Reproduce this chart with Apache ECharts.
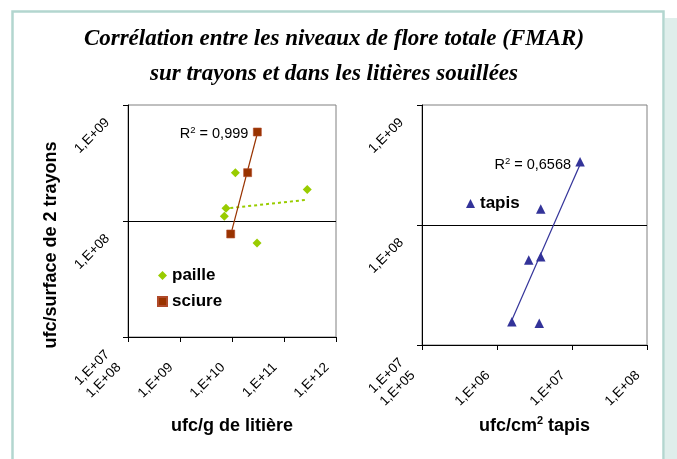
<!DOCTYPE html>
<html><head><meta charset="utf-8">
<script src="https://cdn.jsdelivr.net/npm/echarts@6/dist/echarts.min.js"></script>
<style>html,body{margin:0;padding:0;background:#fff}#c{width:677px;height:459px}</style>
</head><body><div id="c"></div>
<script>
// ---- data ----
const titleText = 'Corrélation entre les niveaux de flore totale (FMAR)\nsur trayons et dans les litières souillées';
const yAxisTitle = 'ufc/surface de 2 trayons';
const xAxisTitleLeft = 'ufc/g de litière';
const xAxisTitleRight = 'ufc/cm{s|2} tapis';

const pailleX = [1.16e10, 2.8e11, 7.67e9, 7.11e9, 3.03e10];
const pailleY = [2.61e8, 1.87e8, 1.29e8, 1.10e8, 6.46e7];
const sciureX = [3.07e10, 2.0e10, 9.44e9];
const sciureY = [5.85e8, 2.61e8, 7.73e7];
const tapisX = [1.28e7, 3.83e6, 2.65e6, 3.83e6, 1.58e6, 3.66e6];
const tapisY = [3.37e8, 1.36e8, 5.11e7, 5.45e7, 1.56e7, 1.52e7];

const r2Sciure = '0,999';
const r2Tapis = '0,6568';

const leftXRange = [1e8, 1e12];
const leftYRange = [1e7, 1e9];
const rightXRange = [1e5, 1e8];
const rightYRange = [1e7, 1e9];

// ---- helpers ----
function zip(xs, ys) { return xs.map((x, i) => [x, ys[i]]); }
// power trendline (least squares in log-log space), drawn from min x to max x
function powerTrend(xs, ys) {
  const lx = xs.map(Math.log10), ly = ys.map(Math.log10);
  const n = lx.length;
  const mx = lx.reduce((a, b) => a + b, 0) / n, my = ly.reduce((a, b) => a + b, 0) / n;
  let sxy = 0, sxx = 0;
  for (let i = 0; i < n; i++) { sxy += (lx[i] - mx) * (ly[i] - my); sxx += (lx[i] - mx) ** 2; }
  const b = sxy / sxx, a = my - b * mx;
  const x0 = Math.min(...lx), x1 = Math.max(...lx);
  return [[10 ** x0, 10 ** (a + b * x0)], [10 ** x1, 10 ** (a + b * x1)]];
}
const fmt = v => '1,E+' + String(Math.round(Math.log10(v))).padStart(2, '0');
const FONT = 'Liberation Sans, Arial, sans-serif';

function xAxis(grid, range, name, gap) {
  return {
    type: 'log', logBase: 10, gridIndex: grid, min: range[0], max: range[1],
    name: name, nameLocation: 'middle', nameGap: gap,
    nameTextStyle: { fontFamily: FONT, fontSize: 18, fontWeight: 'bold', color: '#000',
      rich: { s: { fontFamily: FONT, fontSize: 11, fontWeight: 'bold', verticalAlign: 'bottom', padding: [0, 0, 9, 0], color: '#000' } } },
    axisLine: { show: true, lineStyle: { color: '#000', width: 1 } },
    axisTick: { show: true, length: 5, lineStyle: { color: '#000' } },
    minorTick: { show: false },
    splitLine: { show: false },
    axisLabel: { rotate: 45, fontFamily: FONT, fontSize: 13.5, color: '#000', margin: 19,
      padding: [0, 13, 0, 0], formatter: fmt, showMinLabel: true, showMaxLabel: true }
  };
}
function yAxis(grid, range, name) {
  return {
    type: 'log', logBase: 10, gridIndex: grid, min: range[0], max: range[1],
    name: name, nameLocation: 'middle', nameGap: 68,
    nameTextStyle: { fontFamily: FONT, fontSize: 18, fontWeight: 'bold', color: '#000', padding: [0, 48, 0, 0] },
    axisLine: { show: true, lineStyle: { color: '#000', width: 1 } },
    axisTick: { show: true, length: 5, lineStyle: { color: '#000' } },
    minorTick: { show: false },
    splitLine: { show: true, showMinLine: false, showMaxLine: false, lineStyle: { color: '#000', width: 1 } },
    axisLabel: { rotate: 45, fontFamily: FONT, fontSize: 13.5, color: '#000', margin: 5,
      padding: [0, 22, 0, 0], formatter: fmt, showMinLabel: true, showMaxLabel: true }
  };
}
const r2Rich = { s: { fontFamily: FONT, fontSize: 9.5, verticalAlign: 'bottom', padding: [0, 0, 7, 0], color: '#000' } };
function trendSeries(xi, yi, pts, color, lineType, width, r2) {
  const data = pts.map(p => ({ value: p }));
  if (r2) {
    data[data.length - 1].label = {
      show: true, position: 'left', distance: 9, formatter: 'R{s|2} = ' + r2,
      fontFamily: FONT, fontSize: 14.5, color: '#000', rich: r2Rich
    };
  }
  return {
    type: 'line', xAxisIndex: xi, yAxisIndex: yi, data: data, z: 2,
    symbol: 'circle', symbolSize: 0.01, showSymbol: true,
    lineStyle: { color: color, width: width, type: lineType },
    itemStyle: { color: color }, silent: true
  };
}

const chart = echarts.init(document.getElementById('c'), null, { renderer: 'canvas' });
chart.setOption({
  animation: false,
  backgroundColor: '#fff',
  title: {
    text: titleText, left: 329, top: 17, textAlign: 'center',
    textStyle: { fontFamily: 'Liberation Serif, Times New Roman, serif', fontStyle: 'italic', fontWeight: 'bold',
      fontSize: 23, lineHeight: 35, color: '#000' }
  },
  graphic: [
    { type: 'rect', shape: { x: 12.5, y: 11.5, width: 651, height: 470 }, style: { fill: 'none', stroke: '#b3d6cf', lineWidth: 2.5 }, silent: true },
    { type: 'rect', shape: { x: 665, y: 18, width: 12, height: 441 }, style: { fill: '#dfeeeb' }, silent: true }
  ],
  grid: [
    { left: 128, top: 105, width: 208, height: 232, show: true, borderColor: '#808080', borderWidth: 1, outerBoundsMode: 'none' },
    { left: 422, top: 105, width: 225, height: 240, show: true, borderColor: '#808080', borderWidth: 1, outerBoundsMode: 'none' }
  ],
  xAxis: [ xAxis(0, leftXRange, xAxisTitleLeft, 80), xAxis(1, rightXRange, xAxisTitleRight, 68) ],
  yAxis: [ yAxis(0, leftYRange, yAxisTitle), yAxis(1, rightYRange, '') ],
  legend: [
    { data: ['paille', 'sciure'], orient: 'vertical', left: 152, top: 262, itemWidth: 9, itemHeight: 9, itemGap: 9,
      textStyle: { fontFamily: FONT, fontSize: 17, fontWeight: 'bold', color: '#000' }, selectedMode: false },
    { data: ['tapis'], orient: 'vertical', left: 461, top: 190, itemWidth: 9, itemHeight: 9,
      textStyle: { fontFamily: FONT, fontSize: 17, fontWeight: 'bold', color: '#000' }, selectedMode: false }
  ],
  series: [
    trendSeries(0, 0, powerTrend(pailleX, pailleY), '#99CC00', [3, 3], 2, null),
    trendSeries(0, 0, powerTrend(sciureX, sciureY), '#993300', 'solid', 1.2, r2Sciure),
    trendSeries(1, 1, powerTrend(tapisX, tapisY), '#333399', 'solid', 1.2, r2Tapis),
    { name: 'paille', type: 'scatter', xAxisIndex: 0, yAxisIndex: 0, data: zip(pailleX, pailleY),
      symbol: 'diamond', symbolSize: 9, itemStyle: { color: '#99CC00', opacity: 1 }, z: 3 },
    { name: 'sciure', type: 'scatter', xAxisIndex: 0, yAxisIndex: 0, data: zip(sciureX, sciureY),
      symbol: 'rect', symbolSize: 8, itemStyle: { color: '#993300', opacity: 1, borderColor: '#b04a2a', borderWidth: 0.6 }, z: 3 },
    { name: 'tapis', type: 'scatter', xAxisIndex: 1, yAxisIndex: 1, data: zip(tapisX, tapisY),
      symbol: 'triangle', symbolSize: 9.5, itemStyle: { color: '#333399', opacity: 1 }, z: 3 }
  ]
});
</script>
</body></html>
